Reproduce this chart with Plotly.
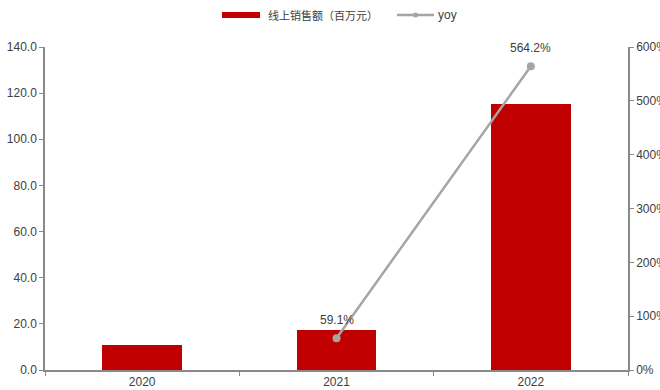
import plotly.graph_objects as go

years = ["2020", "2021", "2022"]
sales = [10.9, 17.3, 115.2]          # 线上销售额（百万元）
yoy = [None, 59.1, 564.2]            # 同比增速 (%)

bar_color = "#C00000"
line_color = "#A5A5A5"
axis_color = "#898989"
text_color = "#404040"
font_family = "Liberation Sans, Arial, sans-serif"

fig = go.Figure()

fig.add_trace(go.Bar(
    x=years, y=sales, name="线上销售额（百万元）",
    marker=dict(color=bar_color, line=dict(width=0)),
    width=0.41, showlegend=False,
))

fig.add_trace(go.Scatter(
    x=years, y=yoy, name="yoy", yaxis="y2",
    mode="lines+markers",
    line=dict(color=line_color, width=2.5),
    marker=dict(color=line_color, size=8),
    showlegend=False, cliponaxis=False,
))

# value labels above the yoy points (category index used for x)
for i, v in enumerate(yoy):
    if v is None:
        continue
    fig.add_annotation(x=i, y=v, xref="x", yref="y2", text=f"{v:.1f}%",
                       showarrow=False, yanchor="bottom", yshift=9,
                       font=dict(family=font_family, size=12, color=text_color))

axis_common = dict(
    showline=True, linecolor=axis_color, linewidth=1.5,
    ticks="outside", ticklen=4, tickcolor=axis_color, tickwidth=1,
    showgrid=False, zeroline=False, automargin=False,
    tickfont=dict(family=font_family, size=12, color=text_color),
)

fig.update_layout(
    width=660, height=390,
    margin=dict(l=45, r=32, t=47, b=20),
    paper_bgcolor="white", plot_bgcolor="white",
    xaxis=dict(type="category", range=[-0.5, 2.5], tickson="boundaries", **axis_common),
    yaxis=dict(range=[0, 140], dtick=20, tickformat=".1f", **axis_common),
    yaxis2=dict(range=[0, 600], dtick=100, ticksuffix="%", overlaying="y", side="right",
                **axis_common),
    showlegend=False,
    bargap=0,
)

# legend drawn at the top center
fig.add_shape(type="rect", xref="paper", yref="paper",
              x0=(222 - 45) / 583, x1=(260 - 45) / 583,
              y0=(370 - 18) / 323, y1=(370 - 12) / 323,
              fillcolor=bar_color, line=dict(width=0))
fig.add_annotation(xref="paper", yref="paper", x=(266 - 45) / 583, y=(370 - 15) / 323,
                   text="线上销售额（百万元）", showarrow=False, xanchor="left", yanchor="middle",
                   font=dict(family="Noto Sans CJK SC", size=11, color=text_color))
fig.add_shape(type="line", xref="paper", yref="paper",
              x0=(397 - 45) / 583, x1=(434 - 45) / 583,
              y0=(370 - 15) / 323, y1=(370 - 15) / 323,
              line=dict(color=line_color, width=2.5))
fig.add_shape(type="circle", xref="paper", yref="paper",
              x0=(413 - 45) / 583, x1=(418 - 45) / 583,
              y0=(370 - 17.5) / 323, y1=(370 - 12.5) / 323,
              fillcolor=line_color, line=dict(width=0))
fig.add_annotation(xref="paper", yref="paper", x=(436 - 45) / 583, y=(370 - 15) / 323,
                   text="yoy", showarrow=False, xanchor="left", yanchor="middle",
                   font=dict(family=font_family, size=12, color=text_color))

fig.write_html("out.html")
